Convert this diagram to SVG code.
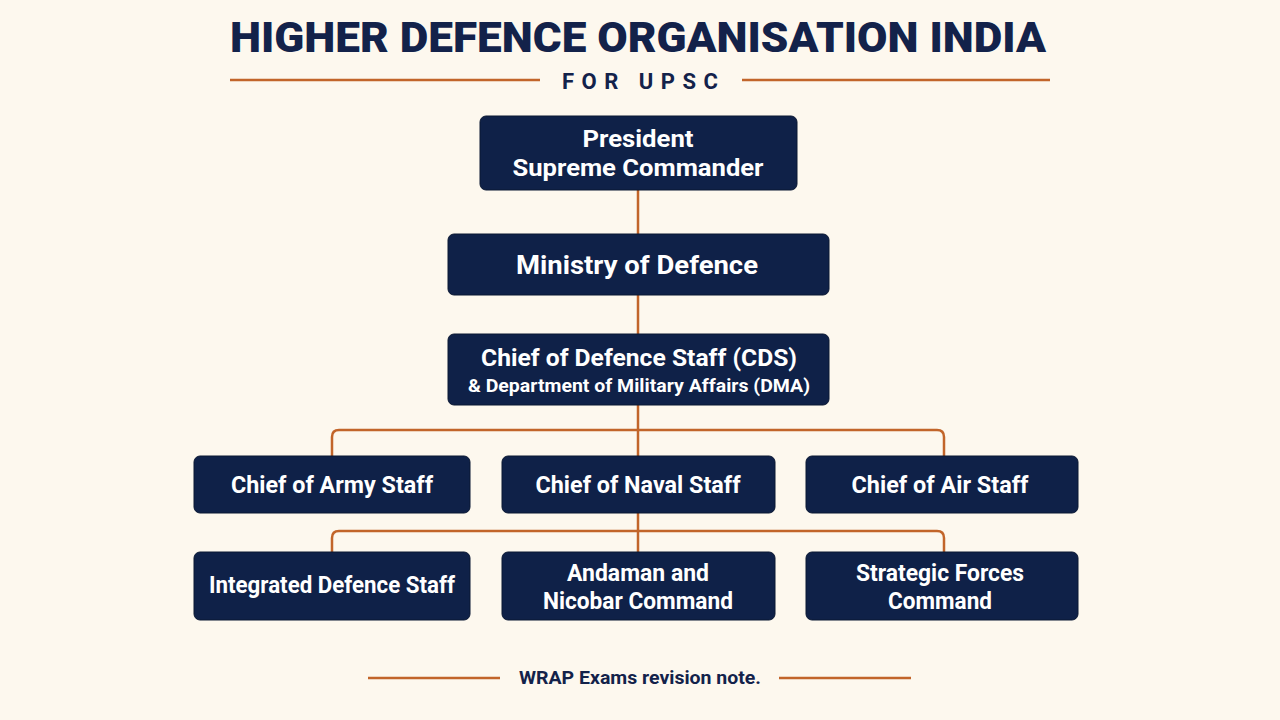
<svg xmlns="http://www.w3.org/2000/svg" width="1280" height="720" viewBox="0 0 1280 720">
<style>
.box{fill:#0f2148;stroke:#0a1833;stroke-width:1}
.t{font-family:Roboto,"Liberation Sans",sans-serif;font-weight:700;fill:#ffffff;text-anchor:middle}
.line{stroke:#c2652a;stroke-width:2.5;fill:none}
.deco{stroke:#c2652a;stroke-width:2.5}
.navy{font-family:Roboto,"Liberation Sans",sans-serif;font-weight:700;fill:#13224a;text-anchor:middle}
</style>
<rect width="1280" height="720" fill="#fdf8ee"/>
<g id="title">
<text class="navy" x="638" y="52" font-size="43" textLength="816" lengthAdjust="spacingAndGlyphs" style="font-weight:900">HIGHER DEFENCE ORGANISATION INDIA</text>
<line class="deco" x1="230" y1="80" x2="540" y2="80"/>
<line class="deco" x1="742" y1="80" x2="1050" y2="80"/>
<text class="navy" x="640" y="89" font-size="22" textLength="156" lengthAdjust="spacing">FOR UPSC</text>
</g>
<g id="connectors">
<line class="line" x1="638" y1="190" x2="638" y2="234"/>
<line class="line" x1="638" y1="295" x2="638" y2="334"/>
<line class="line" x1="638" y1="405" x2="638" y2="456"/>
<path class="line" d="M332 456 V437 Q332 430 339 430 H937 Q944 430 944 437 V456"/>
<line class="line" x1="638" y1="513" x2="638" y2="552"/>
<path class="line" d="M332 552 V538 Q332 531 339 531 H937 Q944 531 944 538 V552"/>
</g>
<g id="president">
<rect class="box" x="480" y="116" width="317" height="74" rx="6"/>
<text class="t" x="638" y="147" font-size="24" textLength="111" lengthAdjust="spacingAndGlyphs">President</text>
<text class="t" x="638" y="176" font-size="24" textLength="251" lengthAdjust="spacingAndGlyphs">Supreme Commander</text>
</g>
<g id="mod">
<rect class="box" x="448" y="234" width="381" height="61" rx="6"/>
<text class="t" x="637" y="274" font-size="26" textLength="242" lengthAdjust="spacingAndGlyphs">Ministry of Defence</text>
</g>
<g id="cds">
<rect class="box" x="448" y="334" width="381" height="71" rx="6"/>
<text class="t" x="639" y="366" font-size="23.5" textLength="316" lengthAdjust="spacingAndGlyphs">Chief of Defence Staff (CDS)</text>
<text class="t" x="639" y="392" font-size="19" textLength="342" lengthAdjust="spacingAndGlyphs">&amp; Department of Military Affairs (DMA)</text>
</g>
<g id="army">
<rect class="box" x="194" y="456" width="276" height="57" rx="6"/>
<text class="t" x="332" y="493" font-size="23" textLength="202" lengthAdjust="spacingAndGlyphs">Chief of Army Staff</text>
</g>
<g id="navy">
<rect class="box" x="502" y="456" width="273" height="57" rx="6"/>
<text class="t" x="638" y="493" font-size="23" textLength="205" lengthAdjust="spacingAndGlyphs">Chief of Naval Staff</text>
</g>
<g id="air">
<rect class="box" x="806" y="456" width="272" height="57" rx="6"/>
<text class="t" x="940" y="493" font-size="23" textLength="177" lengthAdjust="spacingAndGlyphs">Chief of Air Staff</text>
</g>
<g id="ids">
<rect class="box" x="194" y="552" width="276" height="68" rx="6"/>
<text class="t" x="332" y="593" font-size="23" textLength="246" lengthAdjust="spacingAndGlyphs">Integrated Defence Staff</text>
</g>
<g id="anc">
<rect class="box" x="502" y="552" width="273" height="68" rx="6"/>
<text class="t" x="638" y="581" font-size="23" textLength="142" lengthAdjust="spacingAndGlyphs">Andaman and</text>
<text class="t" x="638" y="609" font-size="23" textLength="190" lengthAdjust="spacingAndGlyphs">Nicobar Command</text>
</g>
<g id="sfc">
<rect class="box" x="806" y="552" width="272" height="68" rx="6"/>
<text class="t" x="940" y="581" font-size="23" textLength="168" lengthAdjust="spacingAndGlyphs">Strategic Forces</text>
<text class="t" x="940" y="609" font-size="23" textLength="104" lengthAdjust="spacingAndGlyphs">Command</text>
</g>
<g id="footer">
<line class="deco" x1="368" y1="678" x2="500" y2="678"/>
<line class="deco" x1="779" y1="678" x2="911" y2="678"/>
<text class="navy" x="640" y="684" font-size="19" textLength="242" lengthAdjust="spacingAndGlyphs">WRAP Exams revision note.</text>
</g>
</svg>
